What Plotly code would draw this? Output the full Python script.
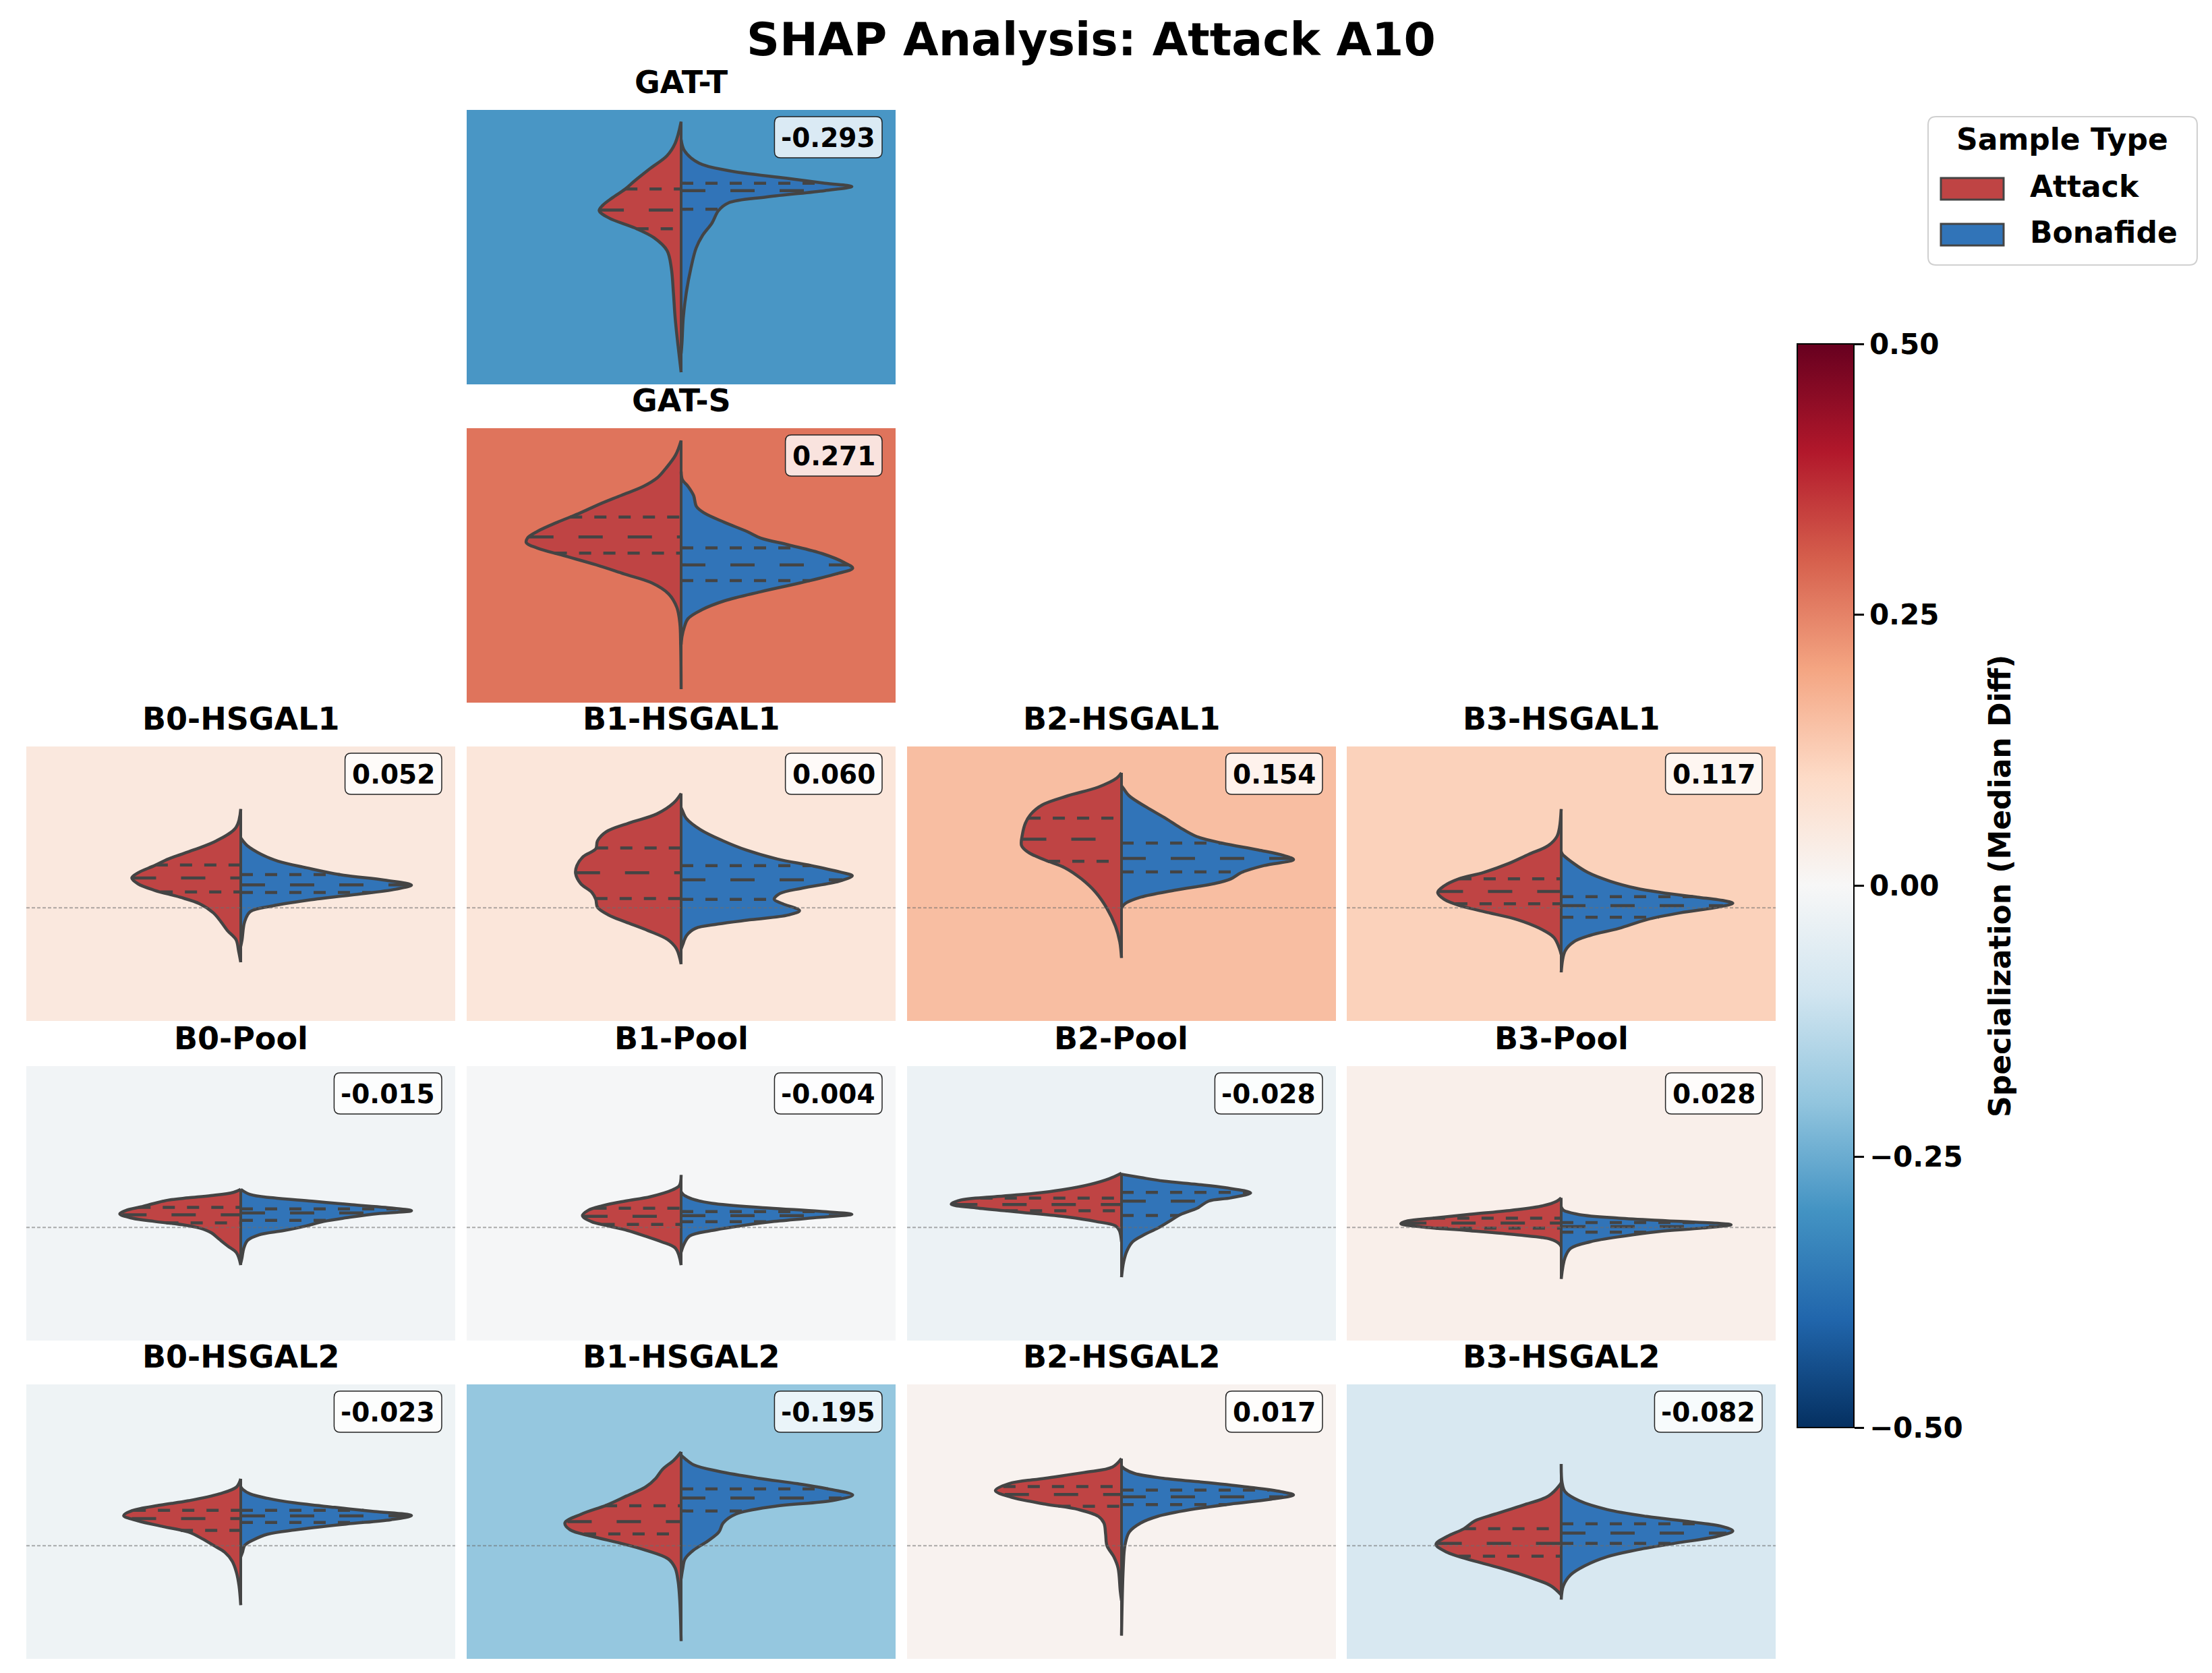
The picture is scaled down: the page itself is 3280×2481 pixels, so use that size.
import numpy as np
import plotly.graph_objects as go

FIG_W, FIG_H = 3280, 2481
FONT = "DejaVu Sans"

# ---------------------------------------------------------------- data
PANEL_NAMES = ["GAT-T", "GAT-S",
               "B0-HSGAL1", "B1-HSGAL1", "B2-HSGAL1", "B3-HSGAL1",
               "B0-Pool", "B1-Pool", "B2-Pool", "B3-Pool",
               "B0-HSGAL2", "B1-HSGAL2", "B2-HSGAL2", "B3-HSGAL2"]
SPECIALIZATION = [-0.293, 0.271,
                  0.052, 0.060, 0.154, 0.117,
                  -0.015, -0.004, -0.028, 0.028,
                  -0.023, -0.195, 0.017, -0.082]
GROUPS = ["Attack", "Bonafide"]
CBAR_TICKS = [-0.5, -0.25, 0.0, 0.25, 0.5]
RDBU_R = ["#053061", "#2166ac", "#4393c3", "#92c5de", "#d1e5f0", "#f7f7f7",
          "#fddbc7", "#f4a582", "#d6604d", "#b2182b", "#67001f"]

# density profiles: (SHAP value, half width)
GAT_T_ATTACK = [(54.5, 0), (46.6, 1.4), (42.1, 3.3), (37.6, 7.1), (33.0, 10.8), (29.9, 13.1),
                (26.7, 16.1), (24.0, 18.3), (22.1, 19.1), (19.4, 16.8), (15.8, 10.8), (12.2, 6.3),
                (7.6, 3.3), (1.3, 2.3), (-7.8, 1.8), (-16.9, 1.4), (-26.0, 0.8), (-36.8, 0)]
GAT_T_BONAFIDE = [(48.0, 0), (43.9, 0.8), (39.4, 4.2), (36.7, 11.0), (33.9, 24.5), (32.1, 33.5),
                  (30.9, 39.8), (29.4, 33.5), (27.1, 20.0), (24.9, 11.0), (22.1, 8.7), (17.6, 7.2),
                  (13.1, 5.0), (8.5, 3.5), (1.3, 2.3), (-7.8, 1.2), (-16.9, 0.5), (-26.0, 0.2), (-30.0, 0)]
GAT_S_ATTACK = [(54.3, 0), (49.0, 1.3), (44.1, 3.6), (40.8, 5.5), (37.6, 8.8), (34.3, 14.0),
                (31.0, 19.2), (27.8, 23.7), (24.5, 28.9), (21.2, 33.5), (18.8, 35.8), (17.1, 36.1),
                (15.1, 33.5), (12.2, 27.0), (9.0, 19.8), (5.7, 13.3), (2.4, 6.8), (-1.6, 2.9),
                (-6.5, 1.0), (-12.2, 0.3), (-20.4, 0.1), (-36.3, 0)]
GAT_S_BONAFIDE = [(43.0, 0), (40.0, 0.3), (37.6, 1.6), (34.3, 2.9), (30.2, 3.6), (27.8, 5.5),
                  (24.5, 10.1), (21.2, 15.3), (18.8, 18.5), (16.3, 25.0), (13.1, 32.9), (9.8, 38.1),
                  (7.8, 40.0), (5.7, 36.1), (2.4, 27.7), (-0.8, 18.5), (-4.1, 10.1), (-7.3, 4.9),
                  (-10.6, 1.6), (-13.9, 0.7), (-17.1, 0.2), (-20.0, 0)]
B0_HSGAL1_ATTACK = [(36.0, 0), (29.3, 1.1), (24.4, 5.7), (21.1, 11.0), (17.8, 16.9), (15.4, 20.1),
                    (12.9, 23.8), (10.9, 25.4), (8.8, 24.0), (6.4, 20.1), (3.9, 14.2), (1.5, 9.6),
                    (-1.8, 6.4), (-5.1, 4.6), (-8.3, 3.1), (-11.6, 1.1), (-15.7, 0.5), (-19.8, 0)]
B0_HSGAL1_BONAFIDE = [(25.5, 0), (24.4, 0.5), (22.7, 1.5), (19.5, 4.8), (17.0, 8.7), (14.6, 15.3),
                      (12.1, 23.1), (10.1, 33.6), (8.3, 39.8), (6.8, 36.2), (4.7, 25.8), (2.7, 15.3),
                      (0.7, 7.4), (-1.4, 2.2), (-5.1, 0.9), (-11.6, 0.3), (-14.0, 0)]
B1_HSGAL1_ATTACK = [(41.7, 0), (38.3, 1.7), (34.2, 5.7), (30.9, 12.2), (27.7, 17.5), (24.4, 19.5),
                    (21.5, 19.9), (18.7, 22.8), (15.4, 24.3), (12.5, 24.6), (8.8, 23.4), (5.6, 20.8),
                    (3.1, 19.9), (0.2, 19.5), (-2.6, 16.9), (-5.1, 13.0), (-8.3, 7.7), (-11.6, 3.1),
                    (-14.9, 1.1), (-20.5, 0)]
B1_HSGAL1_BONAFIDE = [(36.5, 0), (35.4, 0.3), (32.6, 1.2), (28.5, 4.5), (24.4, 9.8), (21.1, 15.1),
                      (17.8, 22.4), (15.4, 30.3), (12.9, 37.5), (11.7, 39.9), (9.7, 36.8), (7.2, 28.3),
                      (5.2, 23.0), (3.1, 21.7), (1.5, 23.7), (-1.0, 27.6), (-2.6, 25.0), (-4.3, 16.4),
                      (-5.9, 8.6), (-7.5, 3.3), (-10.0, 1.3), (-13.3, 0.4), (-15.0, 0)]
B2_HSGAL1_ATTACK = [(49.2, 0), (47.3, 1.1), (44.0, 5.4), (40.8, 12.6), (37.5, 18.5), (34.2, 21.1),
                    (30.9, 22.4), (26.8, 23.1), (22.7, 23.3), (20.3, 21.8), (17.4, 17.8), (14.6, 13.2),
                    (10.5, 9.3), (5.6, 6.0), (-0.2, 3.4), (-6.7, 1.4), (-12.4, 0.4), (-18.2, 0)]
B2_HSGAL1_BONAFIDE = [(44.5, 0), (43.4, 0.5), (40.8, 1.8), (36.7, 5.8), (32.6, 10.3), (29.3, 13.6),
                      (26.0, 17.5), (23.6, 23.4), (21.1, 31.9), (19.1, 37.8), (17.6, 40.1), (15.4, 33.2),
                      (12.9, 28.0), (10.5, 25.4), (8.8, 21.5), (6.4, 12.3), (3.9, 4.5), (1.5, 0.8), (0.0, 0)]
B3_HSGAL1_ATTACK = [(36.0, 0), (29.3, 0.4), (26.0, 1.0), (22.7, 3.0), (19.5, 7.6), (16.2, 12.2),
                    (12.9, 18.1), (10.5, 24.0), (8.0, 27.3), (5.6, 28.8), (3.1, 27.3), (0.7, 23.4),
                    (-1.8, 16.8), (-4.3, 10.2), (-7.5, 5.0), (-10.8, 1.7), (-14.9, 0.4), (-17.0, 0)]
B3_HSGAL1_BONAFIDE = [(20.5, 0), (19.5, 0.3), (16.2, 2.9), (12.9, 6.2), (9.7, 11.4), (7.2, 17.3),
                      (5.6, 23.2), (3.9, 31.7), (2.7, 37.6), (1.7, 40.0), (0.2, 36.3), (-1.8, 27.8),
                      (-4.3, 19.9), (-7.5, 13.4), (-10.0, 6.8), (-12.4, 2.9), (-15.7, 0.9), (-23.5, 0)]
B0_POOL_ATTACK = [(13.9, 0), (12.8, 1.7), (11.6, 6.9), (10.8, 12.2), (10.0, 16.8), (8.8, 20.1),
                  (7.5, 23.3), (6.3, 26.6), (4.9, 28.2), (3.4, 25.3), (2.2, 20.1), (1.0, 13.5),
                  (-0.2, 9.6), (-1.9, 6.9), (-4.3, 5.0), (-6.8, 3.0), (-9.2, 1.0), (-13.7, 0)]
B0_POOL_BONAFIDE = [(13.9, 0), (12.0, 2.2), (10.8, 7.5), (9.6, 16.6), (8.3, 25.8), (7.3, 33.7),
                    (6.1, 39.8), (5.1, 32.4), (3.8, 25.8), (2.2, 19.3), (0.6, 15.3), (-1.1, 10.1),
                    (-2.7, 4.2), (-4.7, 1.6), (-7.6, 0.7), (-10.9, 0.3), (-13.0, 0)]
B1_POOL_ATTACK = [(19.1, 0), (15.3, 0.4), (13.7, 2.0), (11.2, 7.2), (9.6, 13.1), (7.9, 18.4),
                  (6.3, 21.6), (4.3, 23.0), (2.2, 21.0), (0.6, 17.1), (-1.1, 12.5), (-3.1, 8.5),
                  (-5.2, 4.6), (-7.6, 1.3), (-13.7, 0)]
B1_POOL_BONAFIDE = [(13.0, 0), (12.0, 0.5), (10.4, 2.5), (8.8, 7.2), (7.1, 20.4), (5.9, 32.2),
                    (4.8, 39.8), (3.7, 32.2), (2.2, 21.7), (0.6, 13.8), (-1.1, 7.2), (-3.1, 2.0),
                    (-6.0, 0.7), (-9.0, 0)]
B2_POOL_ATTACK = [(19.8, 0), (17.8, 2.8), (15.7, 7.3), (13.7, 13.9), (12.4, 20.4), (11.2, 29.6),
                  (10.0, 37.5), (8.5, 39.7), (7.1, 33.5), (5.5, 23.1), (3.8, 12.6), (2.2, 6.0),
                  (0.6, 1.4), (-1.1, 0.5), (-5.2, 0)]
B2_POOL_BONAFIDE = [(19.4, 0), (18.2, 4.5), (16.9, 9.8), (15.7, 17.7), (14.5, 24.2), (12.6, 30.1),
                    (10.8, 25.5), (9.6, 20.3), (7.1, 17.7), (4.7, 13.7), (2.2, 11.1), (-0.2, 8.5),
                    (-2.7, 5.2), (-5.2, 2.6), (-8.4, 1.3), (-12.5, 0.5), (-18.1, 0)]
B3_POOL_ATTACK = [(10.8, 0), (9.6, 1.0), (7.9, 4.3), (6.3, 11.5), (4.7, 22.0), (3.4, 29.9),
                  (2.4, 35.8), (1.4, 37.4), (0.2, 32.5), (-1.1, 22.0), (-2.7, 10.2), (-4.3, 2.4),
                  (-6.0, 0.4), (-7.0, 0)]
B3_POOL_BONAFIDE = [(7.5, 0), (6.3, 0.5), (4.7, 4.2), (3.4, 13.4), (2.2, 27.8), (1.0, 39.6),
                    (-0.2, 33.0), (-1.5, 22.5), (-3.1, 14.7), (-5.2, 6.8), (-7.6, 2.2), (-10.9, 0.9),
                    (-18.7, 0)]
B0_HSGAL2_ATTACK = [(24.4, 0), (21.4, 1.0), (18.9, 5.0), (16.4, 12.2), (14.8, 18.7), (12.8, 25.3),
                    (11.0, 27.3), (9.1, 24.0), (7.0, 18.1), (5.0, 12.2), (2.5, 8.9), (0.1, 6.3),
                    (-2.4, 3.7), (-5.6, 2.0), (-9.7, 1.0), (-14.6, 0.4), (-21.6, 0)]
B0_HSGAL2_BONAFIDE = [(21.5, 0), (20.5, 0.5), (18.9, 2.2), (17.3, 6.2), (15.6, 12.7), (14.0, 21.9),
                      (12.5, 31.1), (11.0, 39.8), (9.5, 35.0), (7.9, 24.5), (5.8, 12.7), (4.2, 6.2),
                      (2.1, 2.9), (0.1, 0.9), (-2.4, 0.4), (-4.0, 0)]
B1_HSGAL2_ATTACK = [(34.2, 0), (31.2, 1.7), (27.9, 4.3), (24.6, 5.9), (21.4, 8.3), (18.1, 12.8),
                    (14.8, 17.4), (11.5, 23.3), (8.3, 27.1), (5.8, 25.9), (3.4, 20.7), (0.9, 14.1),
                    (-1.6, 8.3), (-4.8, 3.0), (-8.1, 1.4), (-13.0, 0.7), (-20.4, 0.3), (-34.7, 0)]
B1_HSGAL2_BONAFIDE = [(33.0, 0), (32.0, 0.7), (29.5, 2.9), (27.1, 8.8), (24.6, 18.0), (22.6, 27.2),
                      (20.5, 35.0), (18.5, 40.0), (16.4, 35.0), (14.4, 21.9), (11.5, 12.7), (8.3, 9.8),
                      (5.0, 8.8), (1.7, 6.2), (-1.6, 2.9), (-4.8, 0.9), (-8.1, 0.4), (-12.0, 0)]
B2_HSGAL2_ATTACK = [(31.8, 0), (28.7, 2.1), (26.7, 8.7), (24.6, 17.8), (22.6, 26.3), (20.1, 29.4),
                    (17.7, 25.7), (15.2, 17.8), (13.2, 10.0), (10.7, 5.4), (8.3, 4.1), (4.2, 3.7),
                    (0.1, 3.4), (-4.0, 1.8), (-8.1, 0.8), (-16.3, 0.3), (-20.0, 0)]
B2_HSGAL2_BONAFIDE = [(29.0, 0), (27.9, 0.8), (26.3, 3.1), (24.6, 9.7), (23.0, 20.2), (21.4, 29.4),
                      (19.7, 37.2), (18.5, 40.1), (16.9, 34.6), (15.2, 25.4), (13.2, 16.2), (10.7, 8.4),
                      (8.3, 4.5), (5.0, 1.8), (0.1, 0.8), (-8.1, 0.4), (-32.7, 0)]
B3_HSGAL2_ATTACK = [(23.0, 0), (22.2, 0.3), (18.1, 3.0), (14.8, 8.9), (11.5, 15.5), (9.1, 20.1),
                    (6.2, 22.7), (3.4, 26.6), (0.5, 29.2), (-2.4, 26.6), (-4.8, 22.0), (-8.1, 14.2),
                    (-11.4, 7.6), (-14.6, 2.4), (-17.9, 0)]
B3_HSGAL2_BONAFIDE = [(29.8, 0), (23.0, 0.2), (19.7, 0.9), (16.4, 4.2), (13.2, 10.7), (10.7, 19.9),
                      (8.7, 30.4), (7.0, 37.6), (5.4, 40.0), (3.4, 36.3), (0.9, 26.5), (-1.6, 17.3),
                      (-4.0, 10.7), (-7.3, 5.5), (-10.6, 2.2), (-14.6, 0.5), (-19.6, 0)]

ATTACK_PROFILES = [GAT_T_ATTACK, GAT_S_ATTACK,
                   B0_HSGAL1_ATTACK, B1_HSGAL1_ATTACK, B2_HSGAL1_ATTACK, B3_HSGAL1_ATTACK,
                   B0_POOL_ATTACK, B1_POOL_ATTACK, B2_POOL_ATTACK, B3_POOL_ATTACK,
                   B0_HSGAL2_ATTACK, B1_HSGAL2_ATTACK, B2_HSGAL2_ATTACK, B3_HSGAL2_ATTACK]
BONAFIDE_PROFILES = [GAT_T_BONAFIDE, GAT_S_BONAFIDE,
                     B0_HSGAL1_BONAFIDE, B1_HSGAL1_BONAFIDE, B2_HSGAL1_BONAFIDE, B3_HSGAL1_BONAFIDE,
                     B0_POOL_BONAFIDE, B1_POOL_BONAFIDE, B2_POOL_BONAFIDE, B3_POOL_BONAFIDE,
                     B0_HSGAL2_BONAFIDE, B1_HSGAL2_BONAFIDE, B2_HSGAL2_BONAFIDE, B3_HSGAL2_BONAFIDE]

# quartiles (upper, median, lower)
ATTACK_QUARTILES = [[30.0, 22.3, 15.5], [26.4, 19.2, 13.3],
                    [15.6, 10.9, 5.8], [21.8, 12.8, 3.4], [32.7, 25.0, 17.0], [10.6, 6.0, 1.5],
                    [7.3, 4.6, 1.7], [7.0, 4.1, 1.1], [10.7, 8.4, 6.1], [3.4, 1.6, -0.2],
                    [12.9, 9.9, 5.6], [14.6, 8.8, 4.3], [21.6, 18.7, 14.4], [6.2, 0.9, -3.8]]
BONAFIDE_QUARTILES = [[32.1, 29.4, 22.6], [15.2, 9.0, 3.3],
                      [12.1, 8.4, 5.6], [15.4, 10.2, 3.1], [23.6, 18.0, 13.1], [4.1, 0.8, -3.4],
                      [6.8, 5.3, 2.6], [5.8, 4.3, 2.1], [12.8, 9.6, 4.4], [1.8, 0.3, -1.7],
                      [12.9, 10.9, 8.5], [20.7, 17.4, 12.7], [20.3, 17.8, 15.0], [8.0, 4.6, 0.9]]

# ---------------------------------------------------------------- style / layout
GROUP_COLORS = ["#bf4444", "#3174b8"]
EDGE = "#444444"
PANEL_ROW = [0, 1, 2, 2, 2, 2, 3, 3, 3, 3, 4, 4, 4, 4]
PANEL_COL = [1, 1, 0, 1, 2, 3, 0, 1, 2, 3, 0, 1, 2, 3]
COL_LEFT = [31, 684, 1337, 1989]
ROW_TOP = [155, 627, 1099, 1573, 2045]
PANEL_W, PANEL_H = 636, 407
Y_RANGE = [-41.2, 58.8]
X_RANGE = [-50, 50]
VALUE_FONT = 39
# DejaVu Sans Bold advance widths (em) for the value labels
CHAR_EM = {"-": 0.415, ".": 0.380, **{d: 0.696 for d in "0123456789"}}


def X(px):
    return px / FIG_W


def Y(py):
    return 1 - py / FIG_H


def hex_rgb(h):
    h = h.lstrip("#")
    return np.array([int(h[i:i + 2], 16) for i in (0, 2, 4)], dtype=float)


CMAP_RGB = [hex_rgb(c) for c in RDBU_R]


def cmap(v):
    t = min(max((v + 0.5) / 1.0, 0.0), 1.0) * 10
    i = min(int(t), 9)
    f = t - i
    c = (1 - f) * CMAP_RGB[i] + f * CMAP_RGB[i + 1]
    return "rgb(%d,%d,%d)" % tuple(np.round(c).astype(int))


def rounded_path(x0, y0, x1, y1, r):
    return (f"M {X(x0 + r)},{Y(y0)} L {X(x1 - r)},{Y(y0)} Q {X(x1)},{Y(y0)} {X(x1)},{Y(y0 + r)} "
            f"L {X(x1)},{Y(y1 - r)} Q {X(x1)},{Y(y1)} {X(x1 - r)},{Y(y1)} "
            f"L {X(x0 + r)},{Y(y1)} Q {X(x0)},{Y(y1)} {X(x0)},{Y(y1 - r)} "
            f"L {X(x0)},{Y(y0 + r)} Q {X(x0)},{Y(y0)} {X(x0 + r)},{Y(y0)} Z")


fig = go.Figure()
shapes = []
annotations = []
layout_axes = {}

for k, name in enumerate(PANEL_NAMES):
    idx = "" if k == 0 else str(k + 1)
    xa, ya = "x" + idx, "y" + idx
    left = COL_LEFT[PANEL_COL[k]]
    top = ROW_TOP[PANEL_ROW[k]]
    layout_axes["xaxis" + idx] = dict(domain=[X(left), X(left + PANEL_W)], range=X_RANGE,
                                      visible=False, fixedrange=True, anchor=ya)
    layout_axes["yaxis" + idx] = dict(domain=[Y(top + PANEL_H), Y(top)], range=Y_RANGE,
                                      visible=False, fixedrange=True, anchor=xa)

    # panel background coloured by specialization
    shapes.append(dict(type="rect", xref=xa + " domain", yref=ya + " domain", x0=0, x1=1, y0=0, y1=1,
                       fillcolor=cmap(SPECIALIZATION[k]), line=dict(width=0), layer="below"))

    all_v = []
    for g, (prof, quarts) in enumerate([(ATTACK_PROFILES[k], ATTACK_QUARTILES[k]),
                                        (BONAFIDE_PROFILES[k], BONAFIDE_QUARTILES[k])]):
        sign = -1 if g == 0 else 1
        v = np.array([p[0] for p in prof])
        w = np.array([p[1] for p in prof])
        all_v.extend(v.tolist())
        fig.add_trace(go.Scatter(
            x=sign * w, y=v, mode="lines", fill="toself", fillcolor=GROUP_COLORS[g],
            line=dict(color=EDGE, width=4.5, shape="spline", smoothing=1.0),
            xaxis=xa, yaxis=ya, showlegend=False, hoverinfo="skip", name=GROUPS[g]))
        order = np.argsort(v)
        for qi, q in enumerate(quarts):
            wq = float(np.interp(q, v[order], w[order]))
            xs = [-wq, 0] if g == 0 else [0, wq]
            dash = "36px,37px" if qi == 1 else "18px,18px"
            fig.add_trace(go.Scatter(
                x=xs, y=[q, q], mode="lines", line=dict(color=EDGE, width=4.5, dash=dash),
                xaxis=xa, yaxis=ya, showlegend=False, hoverinfo="skip"))
    # centre line of the split violin
    fig.add_trace(go.Scatter(x=[0, 0], y=[min(all_v), max(all_v)], mode="lines",
                             line=dict(color=EDGE, width=4), xaxis=xa, yaxis=ya,
                             showlegend=False, hoverinfo="skip"))

    if PANEL_ROW[k] >= 2:
        shapes.append(dict(type="line", xref=xa + " domain", yref=ya, x0=0, x1=1, y0=0, y1=0,
                           line=dict(color="rgba(110,110,110,0.55)", width=2, dash="5px,3px"),
                           layer="above"))

    # panel title
    annotations.append(dict(text=name, x=X(left + PANEL_W / 2), y=Y(top - 12), xref="paper", yref="paper",
                            xanchor="center", yanchor="bottom", showarrow=False,
                            font=dict(family=FONT, size=46, color="black", weight="bold")))
    # specialization value box (rounded)
    label = f"{SPECIALIZATION[k]:.3f}"
    tw = sum(CHAR_EM[c] for c in label) * VALUE_FONT
    bx1 = left + PANEL_W - 20
    bx0 = bx1 - tw - 20
    by0, by1 = top + 10, top + 71
    shapes.append(dict(type="path", xref="paper", yref="paper", path=rounded_path(bx0, by0, bx1, by1, 9),
                       fillcolor="rgba(255,255,255,0.8)", line=dict(color="#222222", width=1.5),
                       layer="above"))
    annotations.append(dict(text=label, x=X((bx0 + bx1) / 2), y=Y((by0 + by1) / 2 + 1),
                            xref="paper", yref="paper", xanchor="center", yanchor="middle",
                            showarrow=False,
                            font=dict(family=FONT, size=VALUE_FONT, color="black", weight="bold")))

# colorbar carrier
fig.add_trace(go.Scatter(
    x=[None], y=[None], mode="markers", showlegend=False, hoverinfo="skip",
    marker=dict(color=[0], cmin=-0.5, cmax=0.5,
                colorscale=[[i / 10, c] for i, c in enumerate(RDBU_R)], showscale=True,
                colorbar=dict(x=X(2657), xanchor="left", xref="paper", xpad=0, ypad=0,
                              y=Y((502 + 2109) / 2), yanchor="middle", yref="paper",
                              len=(2109 - 502) / FIG_H, lenmode="fraction",
                              thickness=84, thicknessmode="pixels",
                              outlinewidth=2, outlinecolor="black",
                              tickvals=CBAR_TICKS, tickformat=".2f", ticks="outside",
                              ticklen=14, tickwidth=3, tickcolor="black",
                              tickfont=dict(family=FONT, size=42, color="black", weight="bold")))))

# colorbar label
annotations.append(dict(text="Specialization (Median Diff)", x=X(2957), y=Y(1306), xref="paper", yref="paper",
                        xanchor="center", yanchor="middle", textangle=-90, showarrow=False,
                        font=dict(family=FONT, size=44, color="black", weight="bold")))

# main title
annotations.append(dict(text="SHAP Analysis: Attack A10", x=X(1610), y=Y(50), xref="paper", yref="paper",
                        xanchor="center", yanchor="middle", showarrow=False,
                        font=dict(family=FONT, size=68, color="black", weight="bold")))

# legend (drawn manually to match patch style)
shapes.append(dict(type="path", xref="paper", yref="paper", path=rounded_path(2851, 165, 3250, 385, 12),
                   fillcolor="rgba(255,255,255,0.85)", line=dict(color="#d0d0d0", width=2)))
annotations.append(dict(text="Sample Type", x=X(3050), y=Y(199), xref="paper", yref="paper",
                        xanchor="center", yanchor="middle", showarrow=False,
                        font=dict(family=FONT, size=44, color="black", weight="bold")))
LEG_Y = [272, 340]
for g, grp in enumerate(GROUPS):
    shapes.append(dict(type="rect", xref="paper", yref="paper", x0=X(2870), x1=X(2963),
                       y0=Y(LEG_Y[g] + 16), y1=Y(LEG_Y[g] - 16), fillcolor=GROUP_COLORS[g],
                       line=dict(color=EDGE, width=3)))
    annotations.append(dict(text=grp, x=X(3000), y=Y(LEG_Y[g] - 4), xref="paper", yref="paper",
                            xanchor="left", yanchor="middle", showarrow=False,
                            font=dict(family=FONT, size=44, color="black", weight="bold")))

fig.update_layout(width=FIG_W, height=FIG_H, margin=dict(l=0, r=0, t=0, b=0, autoexpand=False),
                  paper_bgcolor="white", plot_bgcolor="rgba(0,0,0,0)",
                  font=dict(family=FONT, color="black"), showlegend=False,
                  shapes=shapes, annotations=annotations, **layout_axes)

fig.write_html("out.html", config={"displayModeBar": False})
